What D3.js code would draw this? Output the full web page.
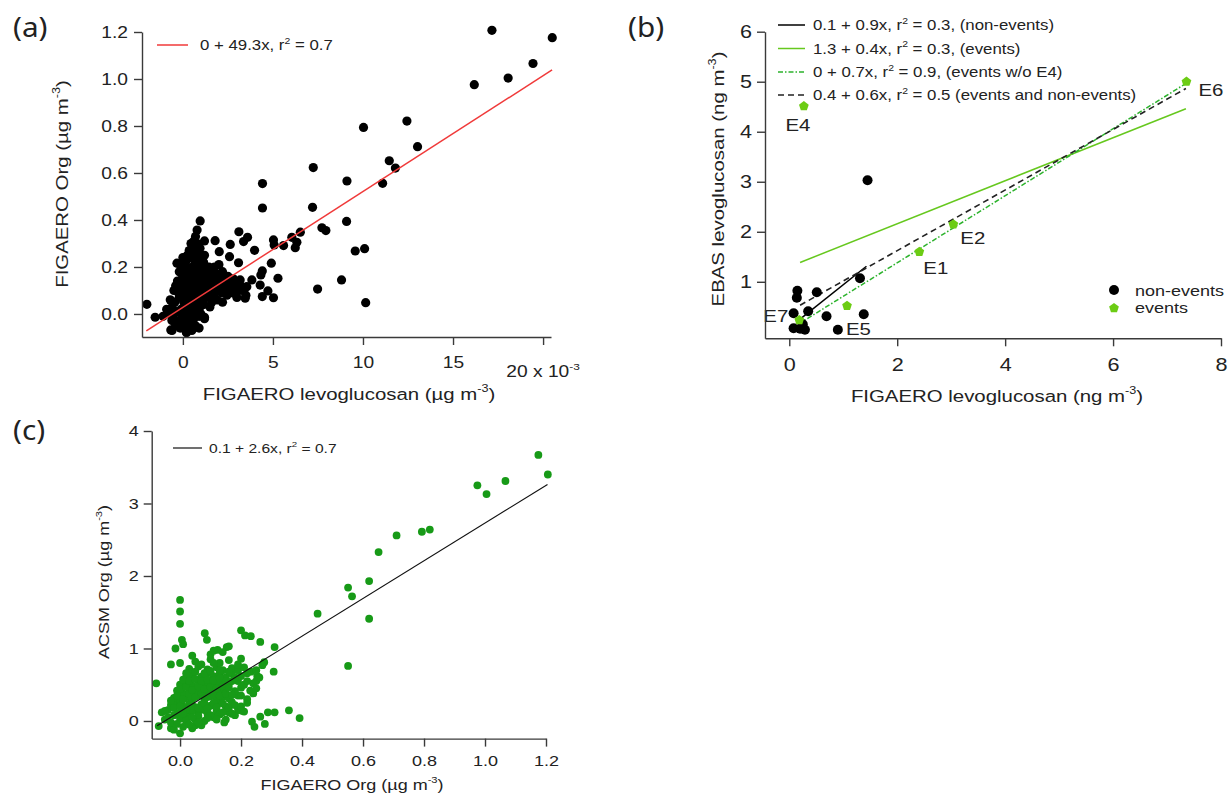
<!DOCTYPE html>
<html>
<head>
<meta charset="utf-8">
<script src="https://cdn.jsdelivr.net/npm/d3@7"></script>
<style>
  html, body { margin: 0; padding: 0; background: #fff; }
  svg { display: block; }
  text { font-family: "Liberation Sans", Arial, sans-serif; fill: #222; }
</style>
</head>
<body>
<svg id="fig" width="1229" height="801"></svg>
<script>
// ---------------- data ----------------
// (a) FIGAERO levoglucosan (x, in 10^-3 µg m^-3) vs FIGAERO Org (y, µg m^-3)
const levoOrgA = [
  [17.16,1.207],[20.51,1.176],[19.44,1.066],[18.06,1.004],[16.18,0.976],[12.44,0.821],[10.03,0.794],
  [13.03,0.712],[11.46,0.652],[11.8,0.621],[11.09,0.556],[7.24,0.623],[9.11,0.566],[4.42,0.555],
  [4.42,0.451],[7.2,0.454],[9.09,0.394],[7.72,0.367],[7.94,0.355],[6.52,0.348],[6.05,0.326],
  [6.33,0.305],[6.24,0.282],[5.03,0.315],[5.07,0.294],[5.59,0.291],[3.98,0.271],[3.11,0.35],
  [3.59,0.326],[3.37,0.308],[2.63,0.296],[2.02,0.265],[1.79,0.312],[1.2,0.311],[0.96,0.396],
  [0.79,0.357],[9.57,0.268],[10.09,0.278],[4.91,0.216],[4.41,0.183],[4.33,0.166],[5.28,0.152],
  [3.09,0.218],[2.59,0.244],[8.81,0.145],[7.48,0.106],[10.15,0.048],[4.41,0.074],[5.03,0.069],
  [4.72,0.098],[4.29,0.123],[3.83,0.145],[3.55,0.116],[3.18,0.145],[3.0,0.095],[3.46,0.067],
  [-2.0,0.041],[-1.54,-0.014],[-0.8,0.014],[-0.61,-0.028],[-0.67,-0.068],[0.18,-0.075],[1.2,-0.014],
  [-0.33,0.216],
  [-0.6,-0.07],[0.2,-0.08],[0.4,-0.06],[0.0,-0.05],[0.7,-0.05],[-0.3,-0.04],
  [-1.1,-0.01],[-0.8,0.0],[-0.5,-0.02],[-0.2,-0.03],[0.1,-0.02],[0.35,-0.03],[0.6,-0.02],[0.9,-0.01],[1.2,-0.02],
  [-0.9,0.02],[-0.6,0.03],[-0.35,0.01],[-0.1,0.02],[0.15,0.01],[0.4,0.02],[0.65,0.03],[0.9,0.02],[1.15,0.04],[1.5,0.03],
  [-0.7,0.06],[-0.45,0.05],[-0.2,0.07],[0.05,0.05],[0.3,0.06],[0.55,0.07],[0.8,0.05],[1.05,0.06],[1.3,0.07],[1.6,0.05],[1.9,0.06],[2.2,0.05],
  [-0.5,0.1],[-0.25,0.09],[0.0,0.11],[0.25,0.1],[0.5,0.12],[0.75,0.09],[1.0,0.11],[1.25,0.1],[1.55,0.09],[1.85,0.1],[2.15,0.09],[2.45,0.08],[2.75,0.09],[3.0,0.07],[3.3,0.1],[3.5,0.08],
  [-0.3,0.14],[-0.05,0.15],[0.2,0.13],[0.45,0.15],[0.7,0.14],[0.95,0.16],[1.2,0.13],[1.5,0.14],[1.8,0.12],[2.1,0.13],[2.4,0.12],[2.7,0.11],[2.9,0.13],[3.2,0.12],
  [-0.2,0.18],[0.05,0.19],[0.3,0.17],[0.55,0.2],[0.8,0.18],[1.05,0.19],[1.35,0.17],[1.65,0.16],[1.95,0.17],[2.25,0.15],
  [0.15,0.22],[0.4,0.24],[0.65,0.21],[0.9,0.23],[1.15,0.22],[1.45,0.2],[1.75,0.2],[2.0,0.21],
  [0.35,0.27],[0.55,0.29],[0.75,0.26],[0.95,0.28],[1.2,0.25],[0.6,0.31],[0.7,0.33],
  [-0.4,-0.05],[0.5,-0.07],[0.9,-0.06],[-0.15,-0.06],[0.3,0.0],[0.75,0.0],[-0.05,-0.01],[1.0,0.0],
  [0.25,0.04],[0.55,0.04],[0.0,0.08],[0.4,0.09],[0.65,0.1],[0.9,0.08],[1.15,0.09],[1.4,0.11],
  [0.1,0.16],[0.35,0.12],[0.6,0.16],[0.85,0.12],[1.1,0.15],[1.35,0.14],
  [0.2,0.2],[0.45,0.19],[0.7,0.23],[1.0,0.21],[1.25,0.19],[0.25,0.25],[0.5,0.26],[0.85,0.25],
  [0.45,0.3],[0.8,0.3],[0.65,0.27],[1.05,0.25],
  [-0.1,0.12],[-0.4,0.12],[1.7,0.08],[2.0,0.11],[2.3,0.1],[2.6,0.13],[2.5,0.16],[2.8,0.15],
  [1.6,0.18],[1.9,0.14],[2.2,0.18],[0.0,0.24],[-0.15,0.21]
];
const fitA = { intercept: 0.028, slope: 49.3, r2: 0.7, from: -2.03, to: 20.5 };
const levoTicksA = [0, 5, 10, 15, 20];
const orgTicksA = [0, 0.2, 0.4, 0.6, 0.8, 1.0, 1.2];

// (b) FIGAERO levoglucosan (x) vs EBAS levoglucosan (y), ng m^-3
const nonEventsB = [
  [1.45,3.03],[1.31,1.07],[0.51,0.79],[0.15,0.82],[0.14,0.68],[0.08,0.37],[0.35,0.41],
  [0.69,0.31],[1.38,0.35],[0.9,0.04],[0.08,0.07],[0.29,0.04],[0.2,0.06],[0.25,0.15]
];
const eventsB = [
  ["E1", 2.41, 1.6], ["E2", 3.04, 2.15], ["E4", 0.27, 4.51],
  ["E5", 1.07, 0.52], ["E6", 7.36, 5.0], ["E7", 0.185, 0.234]
];
const fitsB = [
  { intercept: 0.08, slope: 0.86, r2: 0.3, note: ", (non-events)", from: 0.2, to: 1.43 },
  { intercept: 1.30, slope: 0.43, r2: 0.3, note: ", (events)", from: 0.2, to: 7.35 },
  { intercept: 0.04, slope: 0.67, r2: 0.9, note: ", (events w/o E4)", from: 0.17, to: 7.36 },
  { intercept: 0.41, slope: 0.606, r2: 0.5, note: " (events and non-events)", from: 0.2, to: 7.35 }
];
const levoTicksB = [0, 2, 4, 6, 8];
const ebasTicksB = [1, 2, 3, 4, 5, 6];

// (c) FIGAERO Org (x) vs ACSM Org (y), µg m^-3
const orgOrgC = [
  [1.175,3.67],[1.206,3.40],[1.067,3.31],[0.975,3.25],[1.005,3.13],[0.819,2.64],[0.793,2.61],
  [0.71,2.56],[0.651,2.33],[0.62,1.93],[0.551,1.84],[0.564,1.72],[0.62,1.41],[0.451,1.48],
  [0.551,0.76],[0.357,0.147],[0.392,0.04],[0.31,1.02],[0.307,0.68],[0.263,1.09],[0.2,1.25],
  [0.213,1.18],[0.232,1.17],[0.2,0.86],[0.276,0.81],[0.27,0.77],[0.253,0.62],[0.232,0.68],
  [0.31,0.12],[0.288,0.12],[0.263,0.06],[0.278,-0.04],[0.236,-0.01],[0.244,-0.08],[0.203,0.14],
  [0.145,-0.02],[0.0,1.67],[0.0,1.51],[0.0,1.34],[0.006,1.12],[0.01,1.06],[-0.015,1.0],
  [-0.03,0.78],[-0.078,0.52],[0.081,1.21],[0.088,1.12],[0.123,0.98],[0.153,1.02],
  [-0.07,-0.07],[0.0,-0.17],[-0.03,-0.1],[0.05,-0.06],
  [-0.02,-0.12],[0.01,-0.08],[0.04,-0.1],[0.07,-0.06],
  [-0.05,0.02],[-0.03,-0.02],[0.0,0.03],[0.02,-0.01],[0.05,0.02],[0.08,0.0],[0.11,0.05],[0.15,0.02],[0.18,0.08],
  [-0.06,0.12],[-0.04,0.15],[-0.01,0.1],[0.01,0.14],[0.03,0.09],[0.06,0.13],[0.09,0.1],[0.12,0.14],[0.16,0.12],[0.19,0.15],[0.21,0.13],
  [-0.03,0.22],[-0.01,0.25],[0.01,0.2],[0.03,0.24],[0.05,0.19],[0.07,0.23],[0.1,0.21],[0.13,0.25],[0.15,0.2],[0.17,0.26],
  [-0.02,0.32],[0.0,0.29],[0.02,0.33],[0.04,0.3],[0.06,0.35],[0.08,0.3],[0.1,0.34],[0.12,0.29],[0.14,0.33],[0.16,0.31],[0.19,0.35],[0.22,0.3],
  [-0.01,0.42],[0.01,0.38],[0.03,0.44],[0.05,0.4],[0.07,0.45],[0.09,0.39],[0.11,0.43],[0.13,0.4],[0.15,0.45],[0.18,0.41],[0.2,0.46],[0.23,0.42],
  [0.0,0.5],[0.02,0.54],[0.04,0.49],[0.06,0.55],[0.08,0.5],[0.1,0.53],[0.12,0.5],[0.14,0.56],[0.16,0.51],[0.19,0.55],[0.21,0.5],[0.24,0.52],
  [0.02,0.6],[0.04,0.64],[0.07,0.61],[0.09,0.66],[0.11,0.62],[0.13,0.65],[0.15,0.6],[0.17,0.65],[0.2,0.62],[0.22,0.66],
  [0.03,0.72],[0.06,0.75],[0.09,0.71],[0.12,0.74],[0.14,0.7],[0.17,0.73],[0.19,0.7],[0.21,0.74],[0.25,0.7],
  [0.0,0.8],[0.05,0.82],[0.1,0.85],[0.13,0.8],[0.16,0.84],[0.19,0.78],
  [0.04,0.9],[0.1,0.92],[0.14,0.95],[0.16,1.03],[0.11,0.97],
  [-0.03,0.28],[-0.05,0.14],[0.25,0.55],[0.26,0.6],
  [-0.04,0.05],[-0.02,0.08],[0.0,0.12],[0.02,0.06],[0.04,0.14],[0.06,0.07],[0.08,0.15],[0.1,0.08],[0.13,0.09],
  [-0.02,0.18],[0.0,0.2],[0.02,0.16],[0.04,0.21],[0.06,0.18],[0.08,0.24],[0.09,0.17],[0.11,0.25],[0.12,0.19],[0.14,0.24],[0.16,0.18],[0.18,0.22],
  [-0.01,0.35],[0.01,0.3],[0.03,0.37],[0.05,0.33],[0.07,0.38],[0.09,0.33],[0.11,0.37],[0.13,0.35],[0.15,0.38],[0.17,0.36],
  [0.0,0.44],[0.02,0.47],[0.04,0.43],[0.06,0.48],[0.08,0.44],[0.1,0.47],[0.12,0.45],[0.14,0.49],[0.16,0.46],[0.17,0.55],
  [0.01,0.57],[0.03,0.55],[0.05,0.58],[0.07,0.55],[0.09,0.57],[0.11,0.56],[0.13,0.59],[0.15,0.55],[0.18,0.6],
  [0.05,0.68],[0.08,0.66],[0.1,0.69],[0.13,0.7],[0.16,0.68],[0.07,0.78],[0.11,0.8],[0.02,0.66],
  [0.02,0.02],[0.04,0.05],[0.06,-0.02],[0.09,0.04],[0.12,0.02],[-0.01,-0.04],[0.03,-0.05],[0.01,0.1],
  [0.14,0.12],[0.17,0.1],[0.2,0.2],[0.22,0.25],[0.2,0.35],[0.24,0.38],[0.22,0.55],[0.25,0.45]
];
const fitC = { intercept: 0.13, slope: 2.6, r2: 0.7, from: -0.075, to: 1.205 };
const orgTicksC = [0, 0.2, 0.4, 0.6, 0.8, 1.0, 1.2];
const acsmTicksC = [0, 1, 2, 3, 4];

// ---------------- drawing helpers ----------------
const svg = d3.select("#fig");
const WIDEN = 1.2;                 // horizontal stretch applied to all lettering
const AXIS_COLOR = "#3a3a3a";
const coef = d3.format(".1~f");

// text made of plain runs and {sup:"..."} superscript runs
function richText(g, x, y, parts, o = {}) {
  const size = o.size || 14;
  const t = g.append("text")
    .attr("transform", `translate(${x},${y}) rotate(${o.rotate || 0}) scale(${o.widen ?? WIDEN},1)`)
    .attr("text-anchor", o.anchor || "start")
    .style("font-size", size + "px");
  if (o.family) t.style("font-family", o.family);
  const shift = size * 0.45;
  let raised = false;
  parts.forEach(p => {
    const sup = typeof p !== "string";
    const ts = t.append("tspan").text(sup ? p.sup : p);
    if (sup) { ts.style("font-size", (size * 0.62) + "px").attr("dy", -shift); raised = true; }
    else if (raised) { ts.attr("dy", shift); raised = false; }
  });
  return t;
}

function styleAxis(g, size) {
  g.attr("font-family", null).attr("font-size", null);
  g.select(".domain").attr("stroke", AXIS_COLOR).attr("stroke-width", 1.4);
  g.selectAll(".tick line").attr("stroke", AXIS_COLOR).attr("stroke-width", 1.4);
  g.selectAll(".tick text").attr("fill", "#222").style("font-size", size + "px").each(function () {
    const x0 = +(this.getAttribute("x") || 0);
    this.setAttribute("transform", `translate(${x0},0) scale(${WIDEN},1) translate(${-x0},0)`);
  });
}

function fitLabel(f, scale, tail) {
  return [`${coef(f.intercept)} + ${coef(f.slope * scale)}x, r`, { sup: "2" }, ` = ${coef(f.r2)}${tail || ""}`];
}

// pentagon marker for d3.symbol
const pentagon = {
  draw(ctx, size) {
    const r = Math.sqrt(size / 2.378);
    for (let i = 0; i < 5; i++) {
      const a = -Math.PI / 2 + i * 2 * Math.PI / 5;
      const px = r * Math.cos(a), py = r * Math.sin(a);
      if (i === 0) ctx.moveTo(px, py); else ctx.lineTo(px, py);
    }
    ctx.closePath();
  }
};

const intFmt = d3.format("d");
const oneDec = d3.format(".1f");

// ---------------- panel (a) ----------------
{
  const g = svg.append("g");
  const x = d3.scaleLinear().domain([-2.27, 20.44]).range([142, 551]);
  const y = d3.scaleLinear().domain([-0.098, 1.2]).range([337, 32]);

  g.selectAll("circle").data(levoOrgA).join("circle")
    .attr("cx", d => x(d[0])).attr("cy", d => y(d[1])).attr("r", 4.6).attr("fill", "#000");

  const line = d3.line().x(d => x(d)).y(d => y(fitA.intercept + fitA.slope * d / 1000));
  g.append("path").attr("d", line([fitA.from, fitA.to]))
    .attr("fill", "none").attr("stroke", "#f03a3a").attr("stroke-width", 1.5);

  const xa = g.append("g").attr("transform", `translate(0,${y.range()[0]})`)
    .call(d3.axisBottom(x).tickValues(levoTicksA).tickFormat(d => d === 20 ? "" : intFmt(d))
      .tickSize(8).tickPadding(12).tickSizeOuter(0));
  styleAxis(xa, 16);
  const ya = g.append("g").attr("transform", `translate(${x.range()[0]},0)`)
    .call(d3.axisLeft(y).tickValues(orgTicksA).tickFormat(oneDec)
      .tickSize(8).tickPadding(6).tickSizeOuter(0));
  styleAxis(ya, 16);

  richText(g, x(20), 377, ["20 x 10", { sup: "-3" }], { size: 16, anchor: "middle" });
  richText(g, 349, 400, ["FIGAERO levoglucosan (µg m", { sup: "-3" }, ")"], { size: 17, anchor: "middle" });
  richText(g, 68, 184, ["FIGAERO Org (µg m", { sup: "-3" }, ")"], { size: 17, anchor: "middle", rotate: -90 });

  g.append("line").attr("x1", 157).attr("x2", 188).attr("y1", 45).attr("y2", 45)
    .attr("stroke", "#f03a3a").attr("stroke-width", 1.5);
  richText(g, 200, 50, fitLabel(fitA, 1), { size: 14 });

  richText(g, 13, 37, ["(a)"], { size: 27, family: "'Noto Sans', sans-serif", widen: 1.1 });
}

// ---------------- panel (b) ----------------
{
  const g = svg.append("g");
  const x = d3.scaleLinear().domain([-0.45, 8]).range([765, 1221]);
  const y = d3.scaleLinear().domain([-0.13, 6]).range([338.3, 31.7]);

  const styles = [
    { stroke: "#000", dash: null, width: 1.5 },
    { stroke: "#66c81e", dash: null, width: 1.5 },
    { stroke: "#2db32d", dash: "5,2,1.5,2", width: 1.5 },
    { stroke: "#222", dash: "6,4", width: 1.6 }
  ];
  fitsB.forEach((f, i) => {
    const line = d3.line().x(d => x(d)).y(d => y(f.intercept + f.slope * d));
    g.append("path").attr("d", line([f.from, f.to])).attr("fill", "none")
      .attr("stroke", styles[i].stroke).attr("stroke-width", styles[i].width)
      .attr("stroke-dasharray", styles[i].dash);
  });

  g.selectAll("circle.ne").data(nonEventsB).join("circle").attr("class", "ne")
    .attr("cx", d => x(d[0])).attr("cy", d => y(d[1])).attr("r", 5).attr("fill", "#000");

  const sym = d3.symbol().type(pentagon).size(62);
  g.selectAll("path.ev").data(eventsB).join("path").attr("class", "ev")
    .attr("d", sym).attr("transform", d => `translate(${x(d[1])},${y(d[2])})`).attr("fill", "#6ccc14");

  // event labels, offset from their markers
  const labelOffsets = { E1: [4, 22, "start"], E2: [7, 20, "start"], E4: [-6, 25, "middle"],
                         E5: [-1, 29, "start"], E6: [12, 14, "start"], E7: [-11, 2, "end"] };
  eventsB.forEach(d => {
    const o = labelOffsets[d[0]];
    richText(g, x(d[1]) + o[0], y(d[2]) + o[1], [d[0]], { size: 17, anchor: o[2] });
  });

  const xa = g.append("g").attr("transform", `translate(0,${y.range()[0]})`)
    .call(d3.axisBottom(x).tickValues(levoTicksB).tickFormat(intFmt).tickSize(8).tickPadding(12).tickSizeOuter(0));
  styleAxis(xa, 18);
  const ya = g.append("g").attr("transform", `translate(${x.range()[0]},0)`)
    .call(d3.axisLeft(y).tickValues(ebasTicksB).tickFormat(intFmt).tickSize(8).tickPadding(5).tickSizeOuter(0));
  styleAxis(ya, 18);

  richText(g, 997, 402, ["FIGAERO levoglucosan (ng m", { sup: "-3" }, ")"], { size: 17, anchor: "middle" });
  richText(g, 724, 179, ["EBAS levoglucosan (ng m", { sup: "-3" }, ")"], { size: 17, anchor: "middle", rotate: -90 });

  // fit legend
  const rows = [25, 48.5, 72, 95];
  fitsB.forEach((f, i) => {
    g.append("line").attr("x1", 778).attr("x2", 805).attr("y1", rows[i]).attr("y2", rows[i])
      .attr("stroke", styles[i].stroke).attr("stroke-width", styles[i].width)
      .attr("stroke-dasharray", styles[i].dash);
    richText(g, 813, rows[i] + 5, fitLabel(f, 1, f.note), { size: 14 });
  });

  // marker legend
  g.append("circle").attr("cx", 1114).attr("cy", 290).attr("r", 5).attr("fill", "#000");
  richText(g, 1135, 295.5, ["non-events"], { size: 15 });
  g.append("path").attr("d", sym()).attr("transform", "translate(1114,308)").attr("fill", "#6ccc14");
  richText(g, 1135, 313, ["events"], { size: 15 });

  richText(g, 628, 37, ["(b)"], { size: 27, family: "'Noto Sans', sans-serif", widen: 1.1 });
}

// ---------------- panel (c) ----------------
{
  const g = svg.append("g");
  const x = d3.scaleLinear().domain([-0.093, 1.2]).range([151.7, 546]);
  const y = d3.scaleLinear().domain([-0.243, 4]).range([738.6, 431]);

  g.selectAll("circle").data(orgOrgC).join("circle")
    .attr("cx", d => x(d[0])).attr("cy", d => y(d[1])).attr("r", 3.9).attr("fill", "#179a17");

  const line = d3.line().x(d => x(d)).y(d => y(fitC.intercept + fitC.slope * d));
  g.append("path").attr("d", line([fitC.from, fitC.to]))
    .attr("fill", "none").attr("stroke", "#111").attr("stroke-width", 1.2);

  const xa = g.append("g").attr("transform", `translate(0,${y.range()[0]})`)
    .call(d3.axisBottom(x).tickValues(orgTicksC).tickFormat(oneDec)
      .tickSize(8).tickPadding(9).tickSizeOuter(0));
  styleAxis(xa, 15);
  const ya = g.append("g").attr("transform", `translate(${x.range()[0]},0)`)
    .call(d3.axisLeft(y).tickValues(acsmTicksC).tickFormat(intFmt).tickSize(8).tickPadding(5).tickSizeOuter(0));
  styleAxis(ya, 15);

  richText(g, 352, 790, ["FIGAERO Org (µg m", { sup: "-3" }, ")"], { size: 15, anchor: "middle" });
  richText(g, 109, 582, ["ACSM Org (µg m", { sup: "-3" }, ")"], { size: 15, anchor: "middle", rotate: -90 });

  g.append("line").attr("x1", 173).attr("x2", 202).attr("y1", 448).attr("y2", 448)
    .attr("stroke", "#111").attr("stroke-width", 1.2);
  richText(g, 209, 453, fitLabel(fitC, 1), { size: 13 });

  richText(g, 13, 440, ["(c)"], { size: 27, family: "'Noto Sans', sans-serif", widen: 1.1 });
}
</script>
</body>
</html>
